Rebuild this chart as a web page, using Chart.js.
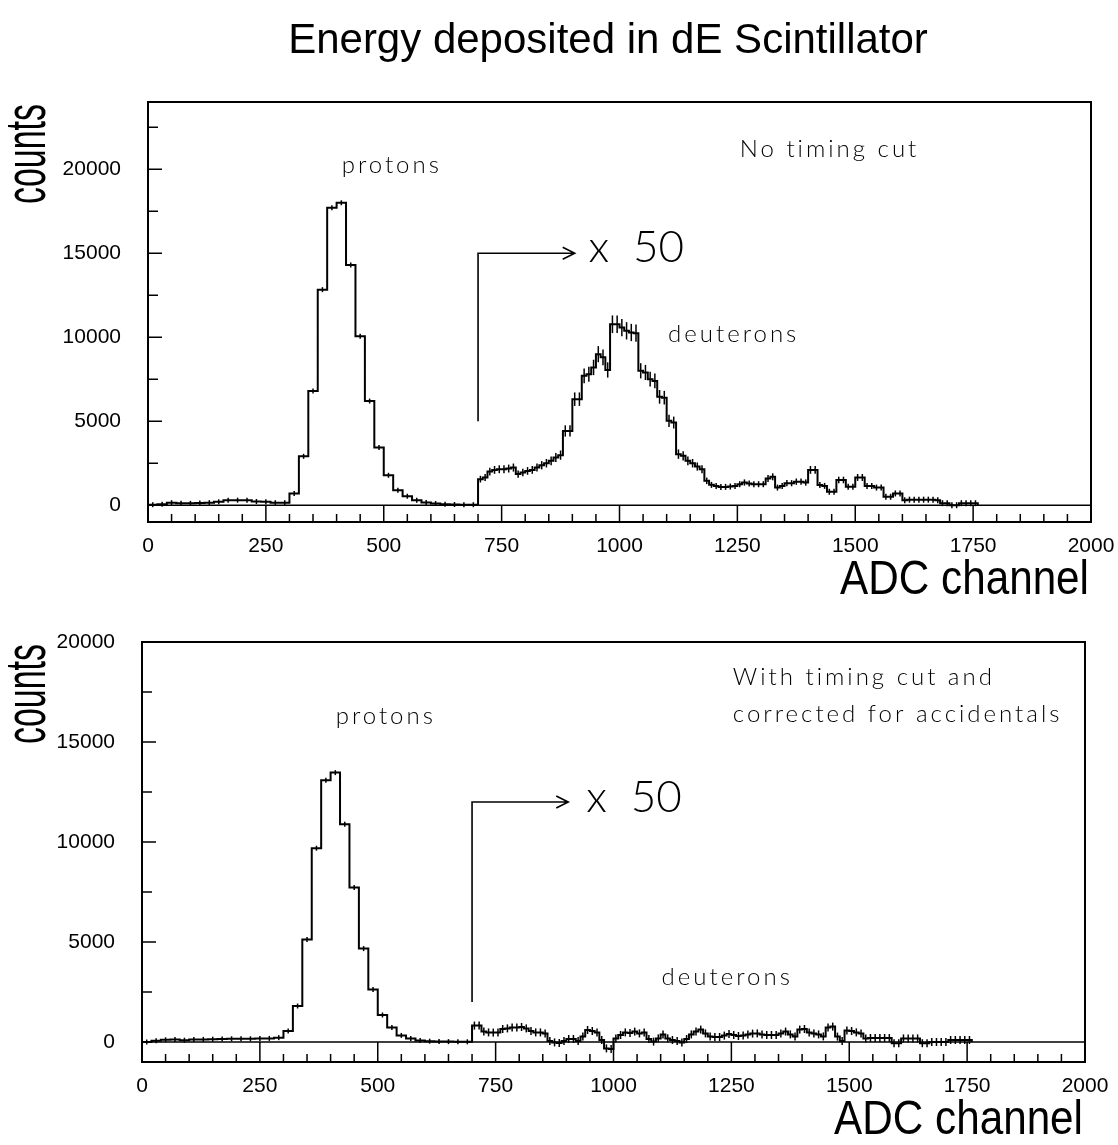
<!DOCTYPE html>
<html>
<head>
<meta charset="utf-8">
<title>Energy deposited in dE Scintillator</title>
<script src="https://cdn.jsdelivr.net/npm/chart.js@4.4.1/dist/chart.umd.min.js"></script>
<style>
  html, body { margin: 0; padding: 0; background: #fff; }
  #page { position: relative; width: 1118px; height: 1145px; }
  canvas { position: absolute; left: 0; }
  #topPanel { top: 0; }
  #bottomPanel { top: 615px; }
</style>
</head>
<body>
<div id="page">
  <canvas id="topPanel" width="1118" height="615"></canvas>
  <canvas id="bottomPanel" width="1118" height="530"></canvas>
</div>
<script>
// Binning of the two histogram parts (ADC channels)
const protonBinWidth = 20;     // 0 - 700
const deuteronStart = 700;
const deuteronBinWidth = 10;   // 700 - 1760, drawn scaled x 50

// Axis ticks
const xTicks = [0, 250, 500, 750, 1000, 1250, 1500, 1750, 2000];
const yTicks = [0, 5000, 10000, 15000, 20000];

// Counts per bin, no timing cut
const protonsNoCut = [30, 60, 150, 120, 110, 130, 150, 200, 300, 300, 300, 220, 200, 150, 150,
  690, 2910, 6800, 12830, 17700, 18000, 14300, 10060, 6200, 3430, 1780, 890, 535, 300, 160,
  100, 60, 40, 30, 30];
const deuteronsNoCut = [
  1550, 1650, 2000, 2100, 2140, 2140, 2180, 2240, 1850, 1940,
  2040, 2100, 2240, 2380, 2500, 2640, 2840, 2980, 4420, 4420,
  6310, 6310, 7700, 7800, 8200, 8990, 8800, 8050, 10770, 10770,
  10570, 10380, 10280, 10240, 8000, 7900, 7500, 7400, 6450, 6400,
  5020, 4920, 3040, 2940, 2640, 2500, 2300, 2140, 1450, 1210,
  1150, 1090, 1090, 1110, 1150, 1250, 1350, 1290, 1250, 1250,
  1250, 1590, 1690, 1050, 1150, 1310, 1310, 1400, 1400, 1350,
  2100, 2100, 1200, 1150, 800, 800, 1500, 1500, 1100, 1100,
  1650, 1650, 1150, 1150, 1050, 1050, 500, 500, 700, 700,
  300, 330, 330, 330, 330, 330, 330, 300, 120, 120,
  0, 0, 120, 120, 120, 120];

// Counts per bin, timing cut and accidentals subtracted
const protonsCut = [0, 60, 110, 120, 90, 120, 130, 140, 150, 160, 160, 160, 170, 180, 217,
  550, 1800, 5130, 9690, 13090, 13470, 10890, 7720, 4670, 2630, 1350, 720, 330, 170, 70,
  40, 30, 20, 10, 10];
const deuteronsCut = [
  820, 820, 520, 480, 470, 470, 650, 680, 720, 730,
  750, 680, 550, 480, 480, 430, 50, -20, -50, 50,
  150, 150, 50, 270, 600, 550, 480, 100, -320, -350,
  180, 350, 480, 450, 520, 430, 480, 150, 20, 180,
  380, 180, 100, 50, -20, 150, 380, 520, 620, 430,
  270, 250, 250, 320, 400, 350, 300, 320, 380, 420,
  430, 380, 350, 350, 350, 430, 520, 380, 270, 620,
  650, 480, 430, 380, 280, 720, 770, 270, 50, 580,
  550, 480, 420, 180, 200, 200, 200, 200, 200, -60,
  -60, 180, 180, 180, 180, -60, -60, 0, 0, 0,
  0, 100, 100, 100, 100, 100];

const noteFont = '300 24px Lato, "Open Sans", sans-serif';
const bigNoteFont = '300 44px Lato, "Open Sans", sans-serif';
const tickFont = { family: '"Liberation Sans", Arial, sans-serif', size: 21 };

// Step outline: each point opens a bin, the last one closes the deuteron part
function histogramPoints(protons, deuterons) {
  const pts = protons.map((v, i) => ({ x: i * protonBinWidth, y: v }));
  deuterons.forEach((v, i) => pts.push({ x: deuteronStart + i * deuteronBinWidth, y: v }));
  pts.push({ x: deuteronStart + deuterons.length * deuteronBinWidth, y: 0 });
  return pts;
}

function binCentres(values, start, width) {
  return values.map((v, i) => ({ x: start + (i + 0.5) * width, y: v }));
}

// Frame, inward ticks, zero line and the text/arrow annotations
const histFrame = {
  id: 'histFrame',
  afterDraw(chart, args, opts) {
    const { ctx, chartArea: a, scales: { x, y } } = chart;
    const y0 = y.getPixelForValue(0);
    ctx.save();
    ctx.strokeStyle = '#000';
    ctx.fillStyle = '#000';
    ctx.lineWidth = 1.5;

    ctx.beginPath();
    ctx.moveTo(a.left, y0);
    ctx.lineTo(a.right, y0);
    // x ticks grow up from the bottom edge
    for (let v = 50; v < 2000; v += 50) {
      const px = x.getPixelForValue(v);
      const len = v % 250 === 0 ? a.bottom - y0 : 8;
      ctx.moveTo(px, a.bottom);
      ctx.lineTo(px, a.bottom - len);
    }
    // y ticks grow right from the left edge
    for (let v = 0; v < y.max; v += 2500) {
      const py = y.getPixelForValue(v);
      ctx.moveTo(a.left, py);
      ctx.lineTo(a.left + (v % 5000 === 0 ? 14 : 10), py);
    }
    ctx.stroke();

    ctx.lineWidth = 2;
    ctx.strokeRect(a.left, a.top, a.right - a.left, a.bottom - a.top);

    // "x 50" marker: vertical bar at the start of the deuteron part, arrow to the right
    const m = opts.marker;
    const mx = x.getPixelForValue(m.x);
    const myLow = y.getPixelForValue(m.yLow);
    const myHigh = y.getPixelForValue(m.yHigh);
    const tip = x.getPixelForValue(m.xTip);
    ctx.lineWidth = 1.6;
    ctx.beginPath();
    ctx.moveTo(mx, myLow);
    ctx.lineTo(mx, myHigh);
    ctx.lineTo(tip, myHigh);
    ctx.moveTo(tip - 12, myHigh - 6);
    ctx.lineTo(tip, myHigh);
    ctx.lineTo(tip - 12, myHigh + 6);
    ctx.stroke();
    ctx.font = bigNoteFont;
    ctx.textAlign = 'left';
    ctx.textBaseline = 'alphabetic';
    ctx.fillText(m.label, x.getPixelForValue(m.labelX), y.getPixelForValue(m.labelY));

    ctx.font = noteFont;
    ctx.letterSpacing = '3px';
    opts.notes.forEach(n => {
      ctx.textAlign = n.align;
      ctx.fillText(n.text, x.getPixelForValue(n.x), y.getPixelForValue(n.y));
    });
    ctx.letterSpacing = '0px';

    // axis titles, drawn narrow like the plotting package did
    ctx.font = '58px "Liberation Sans", Arial, sans-serif';
    ctx.save();
    ctx.translate(a.left - opts.yTitleGap, a.top + 2);
    ctx.rotate(-Math.PI / 2);
    ctx.scale(0.585, 1);
    ctx.textAlign = 'right';
    ctx.fillText('counts', 0, 0);
    ctx.restore();

    ctx.font = '48px "Liberation Sans", Arial, sans-serif';
    ctx.save();
    ctx.translate(a.right - 2, a.bottom + opts.xTitleDrop);
    ctx.scale(0.88, 1);
    ctx.textAlign = 'right';
    ctx.fillText('ADC channel', 0, 0);
    ctx.restore();

    if (opts.title) {
      ctx.font = '42px "Liberation Sans", Arial, sans-serif';
      ctx.textAlign = 'center';
      ctx.fillText(opts.title, 608, 53);
    }
    ctx.restore();
  }
};

function drawPanel(canvasId, protons, deuterons, cfg) {
  const ctx = document.getElementById(canvasId).getContext('2d');
  const H = ctx.canvas.height;
  return new Chart(ctx, {
    type: 'scatter',
    data: {
      datasets: [{
        data: histogramPoints(protons, deuterons),
        showLine: true,
        stepped: 'before',
        borderColor: '#000',
        borderWidth: 2,
        pointRadius: 0
      }, {
        // error bars on the proton bins
        data: binCentres(protons, 0, protonBinWidth),
        pointStyle: 'line',
        rotation: 90,
        pointRadius: 2.5,
        borderColor: '#000',
        borderWidth: 1.5
      }, {
        // error bars on the deuteron bins
        data: binCentres(deuterons, deuteronStart, deuteronBinWidth),
        pointStyle: 'line',
        rotation: 90,
        pointRadius: cfg.deuteronErr,
        borderColor: '#000',
        borderWidth: 1.5
      }]
    },
    options: {
      responsive: false,
      animation: false,
      layout: { padding: cfg.padding },
      plugins: {
        legend: { display: false },
        tooltip: { enabled: false },
        histFrame: {
          notes: cfg.notes,
          marker: cfg.marker,
          xTitleDrop: cfg.xTitleDrop,
          yTitleGap: cfg.yTitleGap,
          title: cfg.title
        }
      },
      scales: {
        x: {
          type: 'linear',
          min: 0,
          max: 2000,
          afterBuildTicks: s => { s.ticks = xTicks.map(v => ({ value: v })); },
          afterFit: s => {
            s.height = H - cfg.plotBottom;
            s.paddingLeft = 0;
            s.paddingRight = 0;
          },
          grid: { display: false, drawTicks: false },
          border: { display: false },
          ticks: {
            color: '#000',
            padding: 12,
            maxRotation: 0,
            font: tickFont,
            callback: v => String(v)
          }
        },
        y: {
          min: -1000,
          max: cfg.yMax,
          afterBuildTicks: s => { s.ticks = yTicks.map(v => ({ value: v })); },
          afterFit: s => {
            s.width = cfg.plotLeft;
            s.paddingTop = 0;
            s.paddingBottom = 0;
          },
          grid: { display: false, drawTicks: false },
          border: { display: false },
          ticks: {
            color: '#000',
            padding: 27,
            font: tickFont,
            callback: v => String(v)
          }
        }
      }
    },
    plugins: [histFrame]
  });
}

drawPanel('topPanel', protonsNoCut, deuteronsNoCut, {
  title: 'Energy deposited in dE Scintillator',
  yMax: 24000,
  padding: { top: 102, right: 27, left: 0, bottom: 0 },
  plotLeft: 148,
  plotBottom: 522,
  xTitleDrop: 72,
  yTitleGap: 103,
  deuteronErr: c => Math.max(3, 0.085 * Math.sqrt(Math.max(c.raw.y, 0))),
  marker: { x: 700, yLow: 5000, yHigh: 15000, xTip: 905, label: 'x  50', labelX: 934, labelY: 14500 },
  notes: [
    { text: 'protons', x: 517, y: 19800, align: 'center' },
    { text: 'No timing cut', x: 1255, y: 20750, align: 'left' },
    { text: 'deuterons', x: 1103, y: 9730, align: 'left' }
  ]
});

drawPanel('bottomPanel', protonsCut, deuteronsCut, {
  yMax: 20000,
  padding: { top: 27, right: 33, left: 0, bottom: 0 },
  plotLeft: 142,
  plotBottom: 447,
  xTitleDrop: 72,
  yTitleGap: 97,
  deuteronErr: 4,
  marker: { x: 700, yLow: 2000, yHigh: 12000, xTip: 904, label: 'x  50', labelX: 942, labelY: 11500 },
  notes: [
    { text: 'protons', x: 517, y: 15900, align: 'center' },
    { text: 'With timing cut and', x: 1253, y: 17850, align: 'left' },
    { text: 'corrected for accidentals', x: 1253, y: 16000, align: 'left' },
    { text: 'deuterons', x: 1102, y: 2850, align: 'left' }
  ]
});
</script>
</body>
</html>
